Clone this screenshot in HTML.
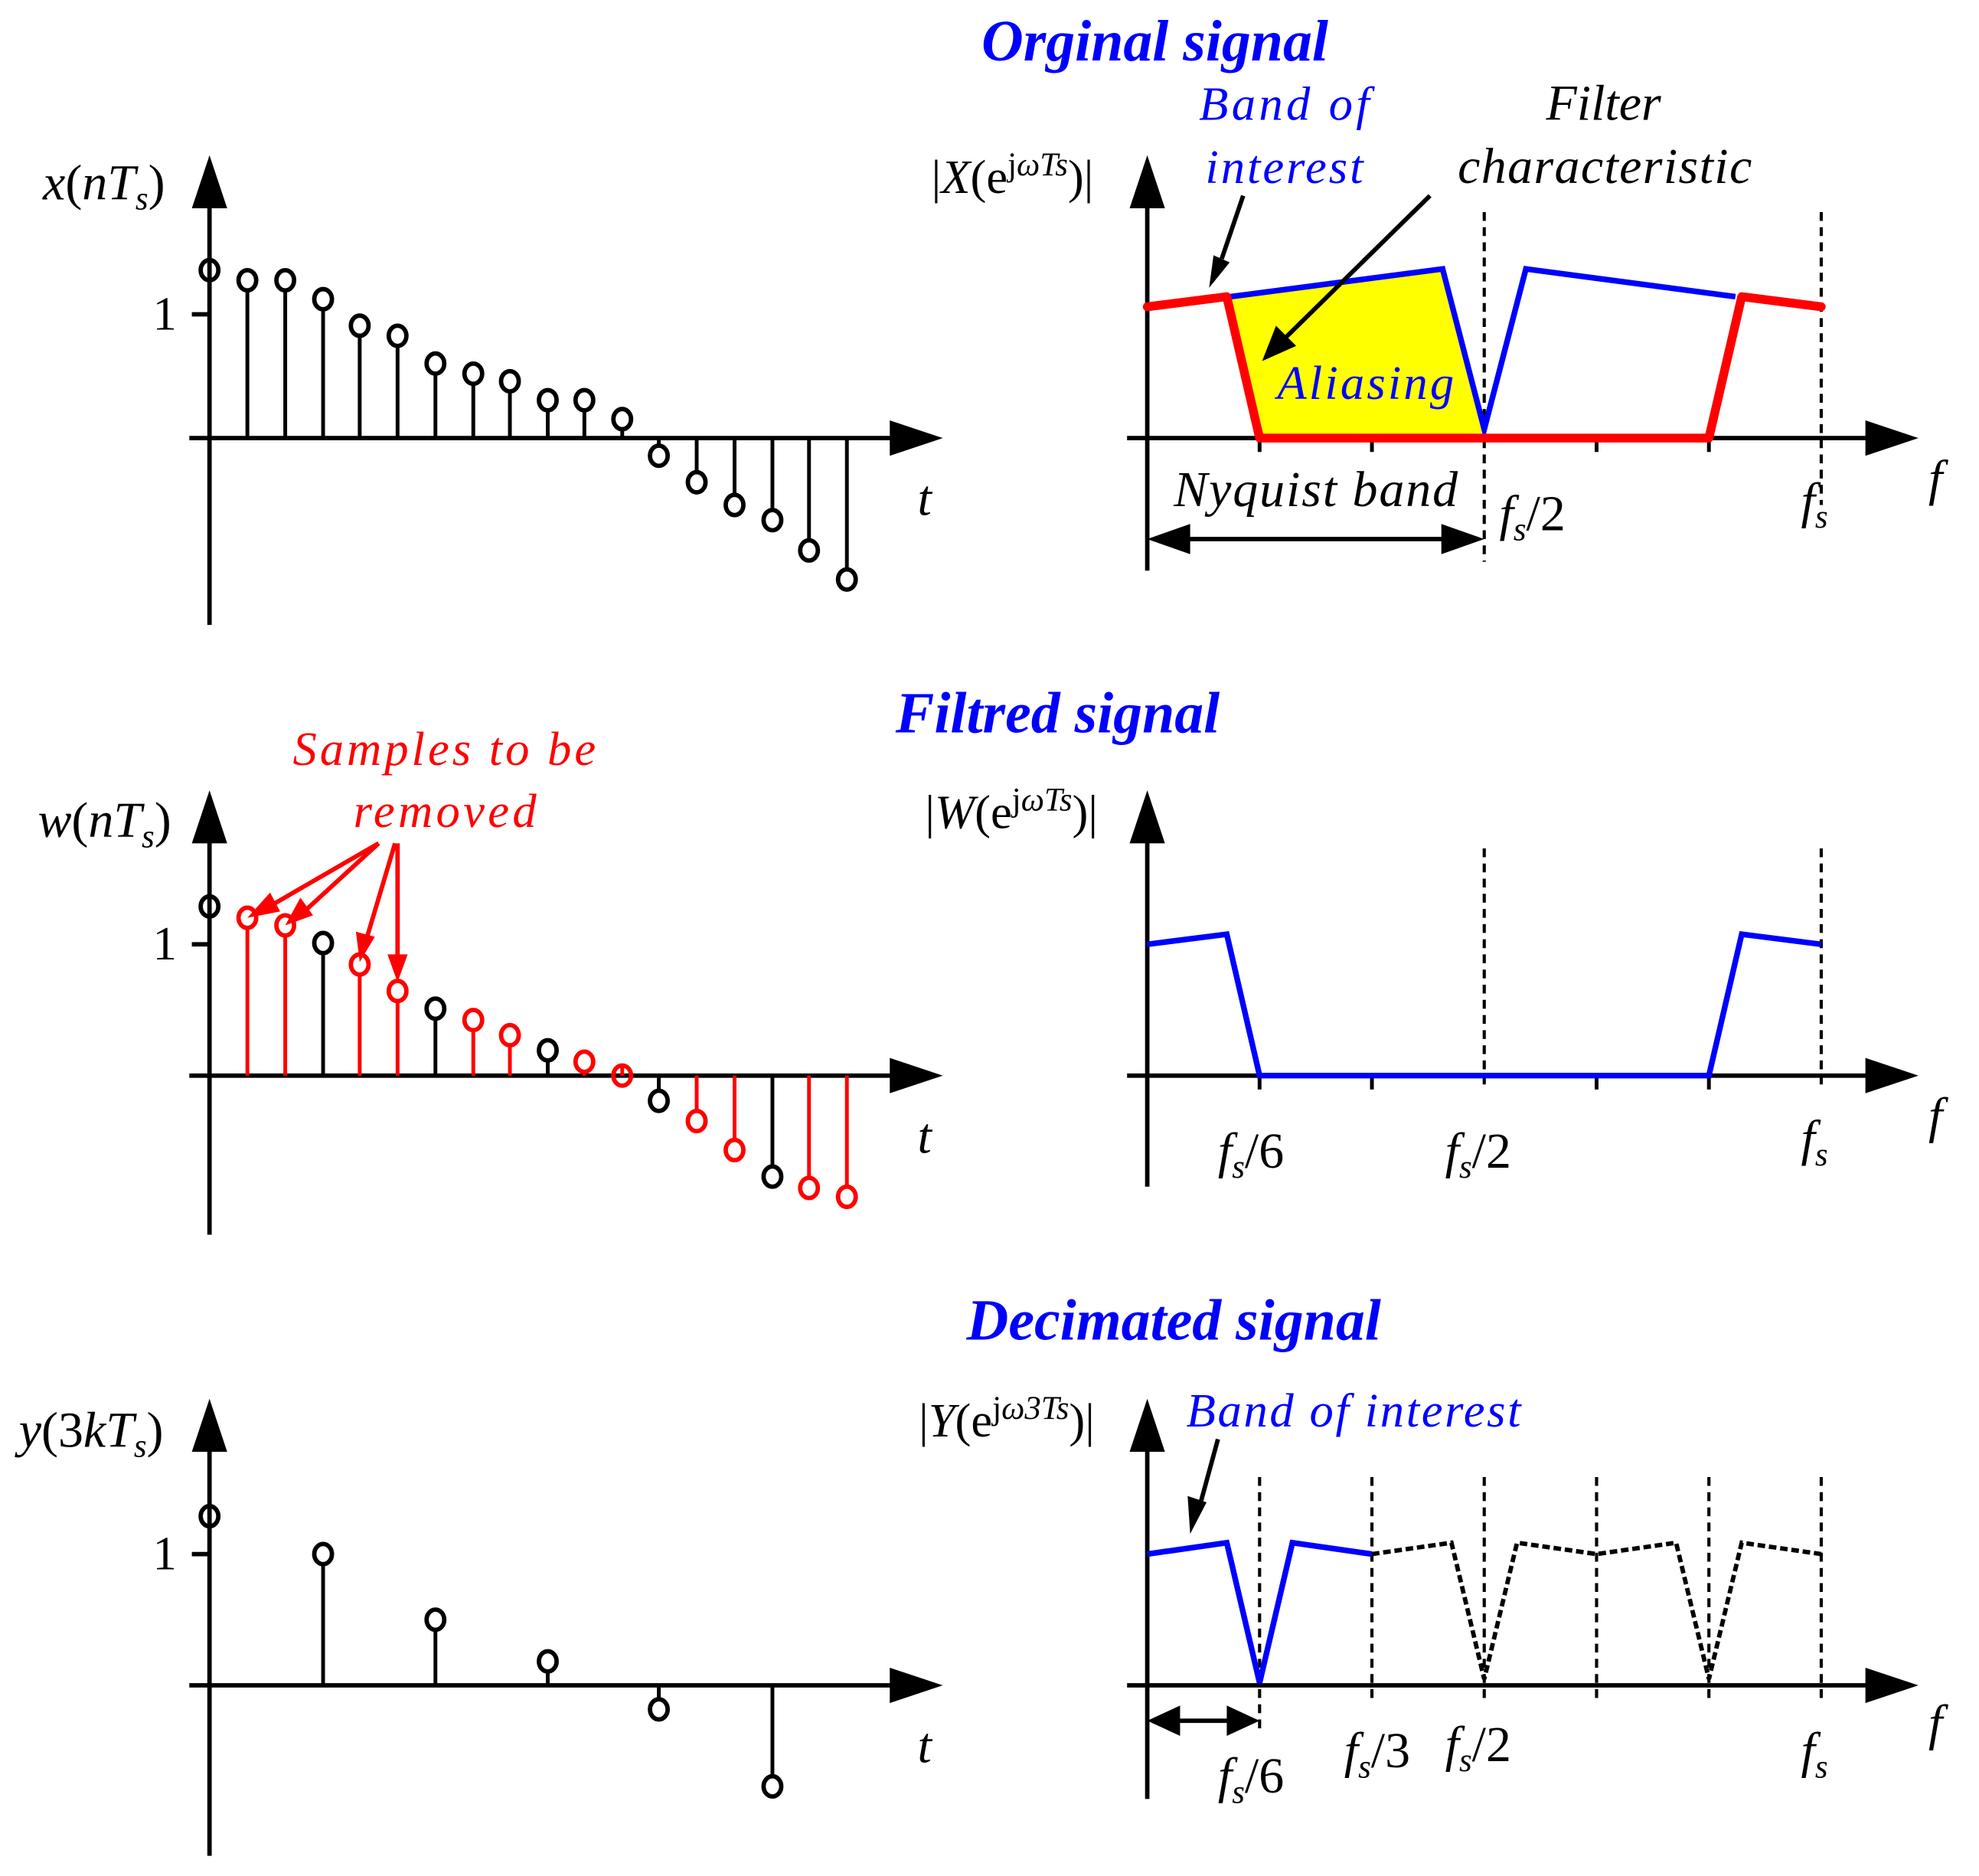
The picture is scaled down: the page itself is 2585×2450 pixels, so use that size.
<!DOCTYPE html>
<html><head><meta charset="utf-8"><style>
html,body{margin:0;padding:0;background:#fff;}
svg{display:block;}
text{font-family:"Liberation Serif",serif;}
.it{font-style:italic;}
</style></head><body>
<svg id="s" width="2585" height="2450" viewBox="0 0 1568 1486" preserveAspectRatio="none" xmlns="http://www.w3.org/2000/svg">
<g fill="none" stroke="#000" stroke-width="3.5">
<line x1="166" y1="495" x2="166" y2="160"/><line x1="150" y1="347" x2="710" y2="347"/><line x1="152" y1="249" x2="166" y2="249"/>
<line x1="166" y1="978" x2="166" y2="665"/><line x1="150" y1="852" x2="710" y2="852"/><line x1="152" y1="748" x2="166" y2="748"/>
<line x1="166" y1="1470" x2="166" y2="1148"/><line x1="150" y1="1335" x2="710" y2="1335"/><line x1="152" y1="1231" x2="166" y2="1231"/>
<line x1="909" y1="452" x2="909" y2="160"/><line x1="893" y1="347" x2="1485" y2="347"/>
<line x1="909" y1="940" x2="909" y2="665"/><line x1="893" y1="852" x2="1485" y2="852"/>
<line x1="909" y1="1425" x2="909" y2="1148"/><line x1="893" y1="1335" x2="1485" y2="1335"/>
</g>
<g fill="#000">
<path d="M152,165 L166,123 L180,165z"/><path d="M705,333 L747,347 L705,361z"/>
<path d="M152,668 L166,626 L180,668z"/><path d="M705,838 L747,852 L705,866z"/>
<path d="M152,1150 L166,1108 L180,1150z"/><path d="M705,1321 L747,1335 L705,1349z"/>
<path d="M895,165 L909,123 L923,165z"/><path d="M1478,333 L1520,347 L1478,361z"/>
<path d="M895,668 L909,626 L923,668z"/><path d="M1478,838 L1520,852 L1478,866z"/>
<path d="M895,1150 L909,1108 L923,1150z"/><path d="M1478,1321 L1520,1335 L1478,1349z"/>
</g>
<g id="stems"></g>
<g stroke="#000" stroke-width="3">
<line x1="998" y1="347" x2="998" y2="358"/><line x1="1087" y1="347" x2="1087" y2="358"/><line x1="1265" y1="347" x2="1265" y2="358"/><line x1="1354" y1="347" x2="1354" y2="358"/>
<line x1="998" y1="852" x2="998" y2="863"/><line x1="1087" y1="852" x2="1087" y2="863"/><line x1="1265" y1="852" x2="1265" y2="863"/><line x1="1354" y1="852" x2="1354" y2="863"/>
</g>
<g stroke="#000" stroke-width="2.5" stroke-dasharray="7,5">
<line x1="1176" y1="168" x2="1176" y2="445"/><line x1="1443" y1="168" x2="1443" y2="400"/>
<line x1="1176" y1="672" x2="1176" y2="862"/><line x1="1443" y1="672" x2="1443" y2="862"/>
<line x1="998" y1="1170" x2="998" y2="1372"/><line x1="1087" y1="1170" x2="1087" y2="1345"/><line x1="1176" y1="1170" x2="1176" y2="1345"/><line x1="1265" y1="1170" x2="1265" y2="1345"/><line x1="1354" y1="1170" x2="1354" y2="1345"/><line x1="1443" y1="1170" x2="1443" y2="1345"/>
</g>
<polygon points="975,235 1143,213 1176,347 998,347" fill="#ffff00"/>
<polyline points="975,235 1143,213 1176,340 1209,213 1375,235" fill="none" stroke="#0000ff" stroke-width="4.5"/>
<polyline points="909,243 972,235 998,347 1354,347 1380,235 1443,243" fill="none" stroke="#ff0000" stroke-width="7" stroke-linejoin="round" stroke-linecap="round"/>
<line x1="985" y1="155" x2="968" y2="205" stroke="#000" stroke-width="3.5"/>
<path d="M958,228 L961.5,202.2 L974.3,207.8z" fill="#000"/>
<line x1="1133" y1="155" x2="1018" y2="268" stroke="#000" stroke-width="3.5"/>
<path d="M1000,286 L1011,258 L1027,274z" fill="#000"/>
<line x1="925" y1="427" x2="1160" y2="427" stroke="#000" stroke-width="3.5"/>
<path d="M909,427 L943,415 L943,439z M1176,427 L1142,415 L1142,439z" fill="#000"/>
<polyline points="909,748 972,740 998,852 1354,852 1380,740 1443,748" fill="none" stroke="#0000ff" stroke-width="4.5"/>
<polyline points="1087,1231 1150,1222 1176,1330 1202,1222 1265,1231 1328,1222 1354,1330 1380,1222 1443,1231" fill="none" stroke="#000" stroke-width="3.5" stroke-dasharray="6,3"/>
<polyline points="909,1231 972,1222 998,1333 1024,1222 1087,1231" fill="none" stroke="#0000ff" stroke-width="4.5"/>
<line x1="965" y1="1140" x2="950" y2="1195" stroke="#000" stroke-width="3.5"/>
<path d="M943,1215 L941,1185 L956,1190z" fill="#000"/>
<line x1="925" y1="1363" x2="982" y2="1363" stroke="#000" stroke-width="3.5"/>
<path d="M909,1363 L935,1351 L935,1375z M998,1363 L972,1351 L972,1375z" fill="#000"/>
<g stroke="#ff0000" stroke-width="3.5">
<line x1="300" y1="668" x2="210" y2="720"/><line x1="300" y1="668" x2="240" y2="723"/>
<line x1="313" y1="668" x2="290" y2="745"/><line x1="315" y1="668" x2="315" y2="760"/>
</g>
<g fill="#ff0000">
<path d="M196,727 L214,707 L222,722z"/><path d="M226,733 L238,711 L248,725z"/>
<path d="M285,762 L282,738 L297,742z"/><path d="M315,778 L307,756 L323,756z"/>
</g>
<g class="it" font-weight="bold" fill="#0000ff" font-size="46" text-anchor="middle">
<text x="915" y="48">Orginal signal</text>
<text x="838" y="580">Filtred signal</text>
<text x="930" y="1061">Decimated signal</text>
</g>
<g font-size="38" fill="#000">
<text x="140" y="261" text-anchor="end">1</text>
<text x="140" y="760" text-anchor="end">1</text>
<text x="140" y="1243" text-anchor="end">1</text>
</g>
<g class="it" font-size="40" fill="#000">
<text x="34" y="158"><tspan>x</tspan><tspan font-style="normal">(</tspan>nT<tspan font-size="26" dy="8">s</tspan><tspan font-style="normal" dy="-8">)</tspan></text>
<text x="30" y="663"><tspan>w</tspan><tspan font-style="normal">(</tspan>nT<tspan font-size="26" dy="8">s</tspan><tspan font-style="normal" dy="-8">)</tspan></text>
<text x="15" y="1146"><tspan>y</tspan><tspan font-style="normal">(3</tspan>kT<tspan font-size="26" dy="8">s</tspan><tspan font-style="normal" dy="-8">)</tspan></text>
<text x="727" y="408">t</text><text x="727" y="913">t</text><text x="727" y="1396">t</text>
<text x="1528" y="392">f</text><text x="1528" y="897">f</text><text x="1528" y="1378">f</text>
<text x="1225" y="95">Filter</text>
<text x="1155" y="145" textLength="233">characteristic</text>
<text x="930" y="401" textLength="225">Nyquist band</text>
<text x="1188" y="420">f<tspan font-size="26" dy="8">s</tspan><tspan dy="-8" font-style="normal">/2</tspan></text>
<text x="1427" y="410">f<tspan font-size="26" dy="8">s</tspan></text>
<text x="965" y="925">f<tspan font-size="26" dy="8">s</tspan><tspan dy="-8" font-style="normal">/6</tspan></text>
<text x="1145" y="925">f<tspan font-size="26" dy="8">s</tspan><tspan dy="-8" font-style="normal">/2</tspan></text>
<text x="1427" y="915">f<tspan font-size="26" dy="8">s</tspan></text>
<text x="965" y="1420">f<tspan font-size="26" dy="8">s</tspan><tspan dy="-8" font-style="normal">/6</tspan></text>
<text x="1065" y="1400">f<tspan font-size="26" dy="8">s</tspan><tspan dy="-8" font-style="normal">/3</tspan></text>
<text x="1145" y="1395">f<tspan font-size="26" dy="8">s</tspan><tspan dy="-8" font-style="normal">/2</tspan></text>
<text x="1427" y="1400">f<tspan font-size="26" dy="8">s</tspan></text>
</g>
<g font-size="38" fill="#000">
<text x="738" y="153"><tspan>|</tspan><tspan font-style="italic">X</tspan>(e<tspan font-size="26" dy="-14">j</tspan><tspan font-size="26" font-style="italic">ωTs</tspan><tspan dy="14">)|</tspan></text>
<text x="733" y="656"><tspan>|</tspan><tspan font-style="italic">W</tspan>(e<tspan font-size="26" dy="-14">j</tspan><tspan font-size="26" font-style="italic">ωTs</tspan><tspan dy="14">)|</tspan></text>
<text x="728" y="1138"><tspan>|</tspan><tspan font-style="italic">Y</tspan>(e<tspan font-size="26" dy="-14">j</tspan><tspan font-size="26" font-style="italic">ω3Ts</tspan><tspan dy="14">)|</tspan></text>
</g>
<g class="it" font-size="38" fill="#0000ff">
<text x="950" y="95" textLength="135">Band of</text>
<text x="955" y="145" textLength="125">interest</text>
<text x="1012" y="316" textLength="140">Aliasing</text>
<text x="940" y="1130" textLength="265">Band of interest</text>
</g>
<g class="it" font-size="38" fill="#ff0000">
<text x="232" y="606" textLength="240">Samples  to be</text>
<text x="280" y="655" textLength="145">removed</text>
</g>
</svg>
<script>
(function(){
var ns="http://www.w3.org/2000/svg",g=document.getElementById("stems");
function st(x,y,base,c){var l=document.createElementNS(ns,"line");var dir=y<base?1:-1;
l.setAttribute("x1",x);l.setAttribute("x2",x);l.setAttribute("y1",base);l.setAttribute("y2",y+dir*8);
l.setAttribute("stroke",c);l.setAttribute("stroke-width","3");g.appendChild(l);
var e=document.createElementNS(ns,"ellipse");e.setAttribute("cx",x);e.setAttribute("cy",y);e.setAttribute("rx",7);e.setAttribute("ry",8);
e.setAttribute("fill","none");e.setAttribute("stroke",c);e.setAttribute("stroke-width","3.5");g.appendChild(e);}
var xs=[166,196,226,256,285,315,345,375,404,434,463,493,522,552,582,612,641,671];
var y1=[214,222,222,237,258,266,288,296,302,317,317,332,361,382,400,412,436,459];
var y2=[718,727,733,747,764,785,799,808,820,832,841,852,872,888,911,932,941,948];
for(var i=0;i<18;i++){st(xs[i],y1[i],347,"#000");st(xs[i],y2[i],852,i%3==0?"#000":"#ff0000");}
var x3=[166,256,345,434,522,612],y3=[1201,1231,1283,1316,1354,1415];
for(var j=0;j<6;j++)st(x3[j],y3[j],1335,"#000");
})();
</script>
</body></html>
